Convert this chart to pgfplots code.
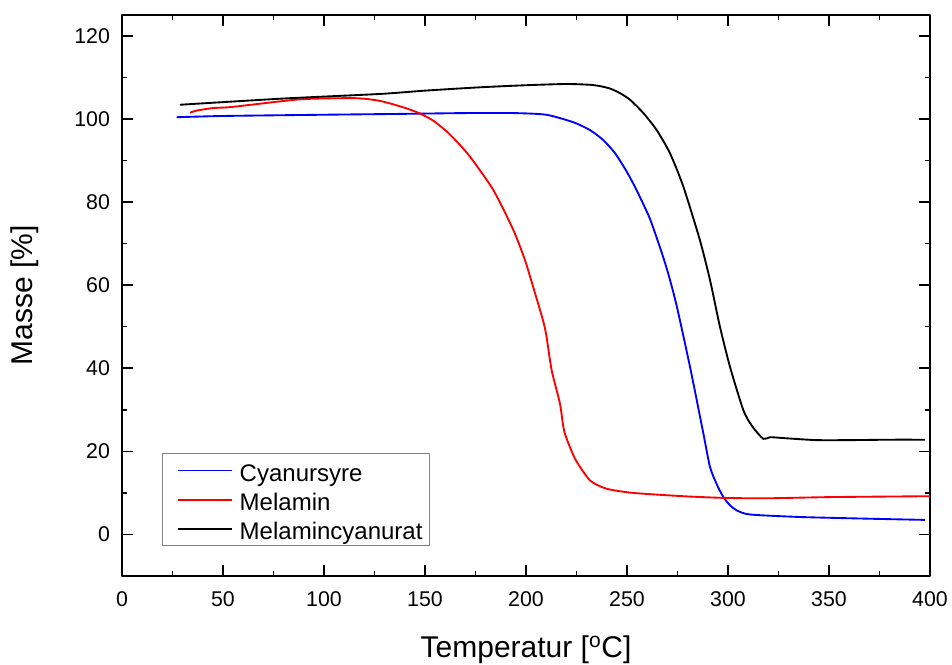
\documentclass[border=0pt]{standalone}
\usepackage{fontspec}
\setmainfont{Liberation Sans}
\usepackage{pgfplots}
\pgfplotsset{compat=1.18}

\definecolor{cyanblue}{RGB}{0,0,255}
\definecolor{melred}{RGB}{255,0,0}

\begin{document}
\begin{tikzpicture}
\begin{axis}[
  scale only axis,
  width=606pt, height=420.75pt,
  xmin=0, xmax=400, ymin=-10, ymax=125,
  xtick={0,50,...,400}, ytick={0,20,...,120},
  minor x tick num=1, minor y tick num=1,
  tick align=inside,
  major tick length=8pt, minor tick length=4pt,
  axis line style={line width=1.2pt},
  every tick/.style={black, line width=1.2pt},
  tick label style={font=\fontsize{16}{19}\selectfont},
  xticklabel style={yshift=-8.5pt},
  yticklabel style={xshift=-5.5pt},
  /pgf/number format/assume math mode=true,
  xlabel={Temperatur [\textsuperscript{o}C]},
  ylabel={Masse [\%]},
  every axis x label/.style={at={(axis description cs:0.5,0)}, yshift=-55.5pt, anchor=center,
    font=\fontsize{22.5}{26}\selectfont},
  every axis y label/.style={at={(axis description cs:0,0.5)}, xshift=-73pt, rotate=90, anchor=center,
    font=\fontsize{22.5}{26}\selectfont},
  legend cell align=left,
  legend style={at={(axis description cs:0.0492,0.0535)}, anchor=south west,
    draw=gray, line width=0.6pt,
    font=\fontsize{18}{21}\selectfont, inner xsep=5pt, inner ysep=3pt, row sep=2.9pt,
    nodes={inner xsep=0pt, inner ysep=0pt, text height=17.6pt, text depth=1.4pt}},
  legend image code/.code={\path[draw=none, fill=none] (0pt,0pt) -- (53.2pt,0pt);
    \draw[#1, line width=1.4pt] (6.7pt,0pt) -- (47.5pt,0pt);},
  line join=round,
]
% Cyanursyre
\addplot[cyanblue, line width=1.4pt, smooth, tension=0.4] coordinates {
(27,100.4) (50,100.7) (100,101.0) (137.6,101.2) (170,101.4) (193.7,101.4)
(210,101.0) (223.4,99.2) (231.7,97.3) (238,95.0) (244,91.8) (250,87.2)
(255,82.6) (261.4,75.9) (267.2,67.8) (270.5,62.6) (274.6,55.0) (281.2,40.3)
(287.8,24.3) (291.1,16.2) (294.5,12.0) (297.7,9.0) (301,7.0) (304.3,5.8)
(310.9,4.8) (335.6,4.2) (368.7,3.8) (397.5,3.5)
};
\addlegendentry{Cyanursyre}
% Melamin
\addplot[melred, line width=1.4pt, smooth, tension=0.4] coordinates {
(33.7,101.5) (37,102.0) (45,102.6) (55,102.9) (88,104.7) (113,105.0)
(121,104.8) (128,104.3) (135,103.4) (141,102.5) (147.5,101.3) (154,99.6)
(160.7,97.0) (166,94.4) (172.3,90.9) (183.8,82.9) (193.7,73.3) (199.5,66.0)
(204.5,58.0) (208.6,51.2) (210.2,47.5) (212.7,39.5) (216.8,31.5) (219,24.7)
(224.3,18.2) (231.7,13.0) (239.9,11.0) (253,10.0) (277.9,9.2) (297.7,8.8)
(319,8.7) (352,9.0) (400,9.2)
};
\addlegendentry{Melamin}
% Melamincyanurat
\addplot[black, line width=1.4pt, smooth, tension=0.4] coordinates {
(28.7,103.4) (80,104.9) (127.7,106.0) (150,106.8) (177.2,107.6) (200,108.1)
(220.1,108.4) (231.7,108.2) (236.5,107.9) (241.6,107.3) (246.5,106.2) (251.5,104.6)
(258.1,101.4) (264.7,97.3) (271.3,91.7) (277.9,83.7) (286.1,70.8) (291.1,61.2)
(296,50.0) (301,40.3) (307.6,29.9) (312,26.0) (317.5,23.0) (320.8,23.4)
(330,23.1) (343.9,22.7) (360.4,22.7) (380,22.8) (397.5,22.8)
};
\addlegendentry{Melamincyanurat}
\end{axis}
\pgfresetboundingbox
\path ([shift={(-91.5pt,-66pt)}]current axis.south west)
  rectangle ([shift={(16.5pt,11.25pt)}]current axis.north east);
\end{tikzpicture}
\end{document}
